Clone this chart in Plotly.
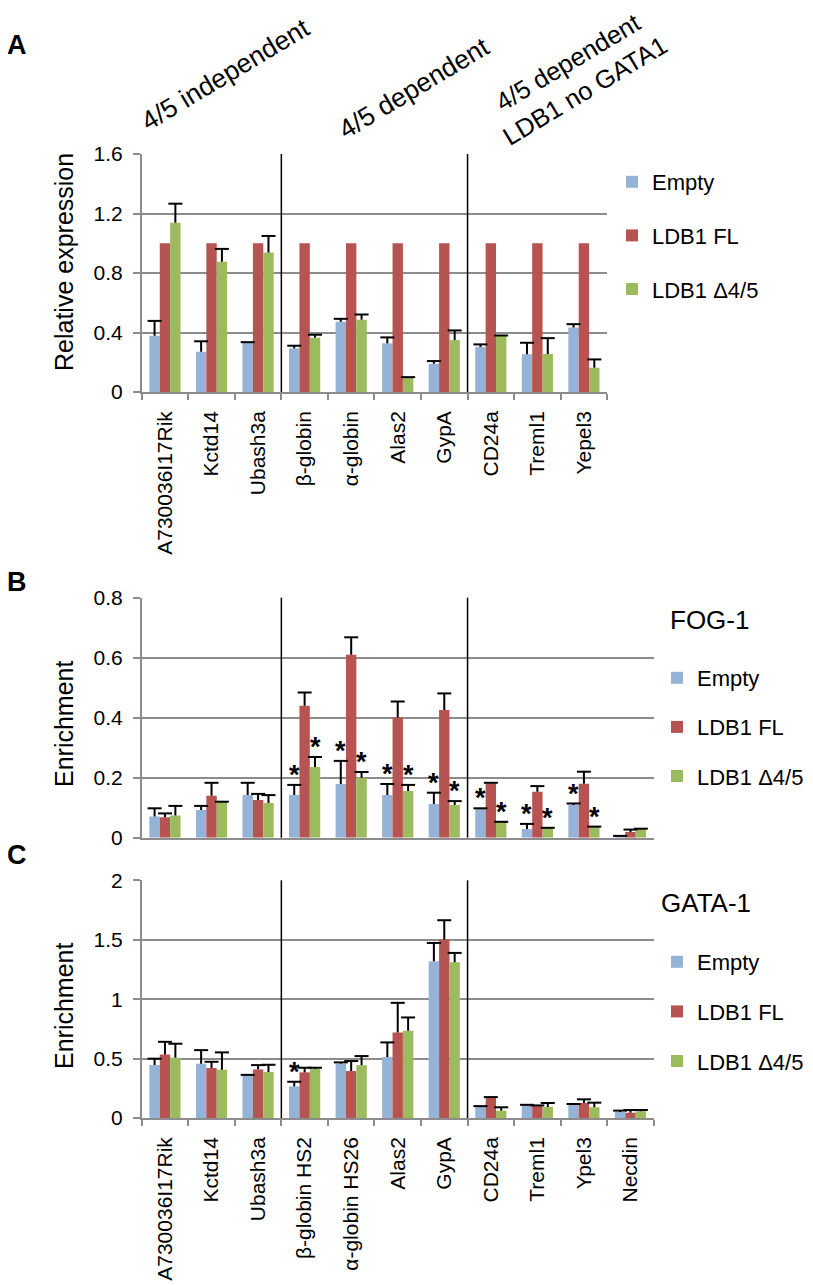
import plotly.graph_objects as go

W, H = 813, 1285

# ---------------- data ----------------
series_names = ["Empty", "LDB1 FL", "LDB1 Δ4/5"]
series_colors = ["#95B3D7", "#B65451", "#9CBB5E"]

# Panel A: relative expression
cats_a = ["A730036I17Rik", "Kctd14", "Ubash3a", "β-globin", "α-globin",
          "Alas2", "GypA", "CD24a", "Treml1", "Yepel3"]
a_empty = [0.378, 0.271, 0.333, 0.293, 0.472, 0.327, 0.190, 0.302, 0.253, 0.434]
a_empty_sd = [0.100, 0.070, 0.002, 0.018, 0.020, 0.040, 0.018, 0.018, 0.078, 0.022]
a_fl = [1.0, 1.0, 1.0, 1.0, 1.0, 1.0, 1.0, 1.0, 1.0, 1.0]
a_fl_sd = None
a_d45 = [1.137, 0.875, 0.938, 0.365, 0.486, 0.098, 0.349, 0.378, 0.255, 0.163]
a_d45_sd = [0.129, 0.087, 0.111, 0.020, 0.035, 0.002, 0.065, 0.002, 0.107, 0.056]

# Panel B: FOG-1 enrichment
cats_bc = ["A730036I17Rik", "Kctd14", "Ubash3a", "β-globin HS2", "α-globin HS26",
           "Alas2", "GypA", "CD24a", "Treml1", "Ypel3", "Necdin"]
b_empty = [0.071, 0.092, 0.142, 0.142, 0.179, 0.142, 0.112, 0.097, 0.029, 0.109, 0.005]
b_empty_sd = [0.027, 0.014, 0.041, 0.034, 0.077, 0.037, 0.038, 0.001, 0.017, 0.005, 0.001]
b_fl = [0.068, 0.140, 0.126, 0.440, 0.610, 0.401, 0.426, 0.180, 0.153, 0.180, 0.019]
b_fl_sd = [0.013, 0.043, 0.020, 0.044, 0.058, 0.053, 0.055, 0.003, 0.019, 0.040, 0.008]
b_d45 = [0.074, 0.119, 0.116, 0.236, 0.200, 0.156, 0.109, 0.052, 0.032, 0.036, 0.028]
b_d45_sd = [0.032, 0.001, 0.026, 0.033, 0.019, 0.020, 0.013, 0.001, 0.001, 0.001, 0.002]
b_empty_star = [0, 0, 0, 1, 1, 1, 1, 1, 1, 1, 0]
b_fl_star = [0, 0, 0, 0, 0, 0, 0, 0, 0, 0, 0]
b_d45_star = [0, 0, 0, 1, 1, 1, 1, 1, 1, 1, 0]

# Panel C: GATA-1 enrichment
c_empty = [0.445, 0.457, 0.361, 0.266, 0.457, 0.513, 1.319, 0.098, 0.109, 0.112, 0.050]
c_empty_sd = [0.054, 0.114, 0.002, 0.039, 0.011, 0.123, 0.154, 0.002, 0.002, 0.006, 0.012]
c_fl = [0.535, 0.420, 0.409, 0.384, 0.395, 0.720, 1.501, 0.171, 0.104, 0.126, 0.045]
c_fl_sd = [0.106, 0.053, 0.036, 0.039, 0.084, 0.249, 0.163, 0.005, 0.002, 0.031, 0.022]
c_d45 = [0.507, 0.406, 0.387, 0.412, 0.445, 0.734, 1.311, 0.062, 0.092, 0.090, 0.056]
c_d45_sd = [0.118, 0.146, 0.061, 0.011, 0.076, 0.112, 0.078, 0.028, 0.034, 0.039, 0.011]
c_empty_star = [0, 0, 0, 1, 0, 0, 0, 0, 0, 0, 0]
c_fl_star = [0, 0, 0, 0, 0, 0, 0, 0, 0, 0, 0]
c_d45_star = [0, 0, 0, 0, 0, 0, 0, 0, 0, 0, 0]

group_labels = ["4/5 independent", "4/5 dependent", "4/5 dependent<br>LDB1 no GATA1"]

# ---------------- helpers ----------------
PAGE_OFF = 8  # default page body margin of the written html


def pxx(x):
    return (x - PAGE_OFF) / W


def pxy(y):
    return 1 - (y - PAGE_OFF) / H


FONT = "Liberation Sans, Arial, sans-serif"
GRID = "#8C8C8C"
BARGAP = 0.33
SLOT = (1 - BARGAP) / 3  # width of one bar in category units

panels = [
    dict(xa="x", ya="y", cats=cats_a, legend="legend",
         vals=[a_empty, a_fl, a_d45], sds=[a_empty_sd, a_fl_sd, a_d45_sd],
         stars=[None, None, None]),
    dict(xa="x2", ya="y2", cats=cats_bc, legend="legend2",
         vals=[b_empty, b_fl, b_d45], sds=[b_empty_sd, b_fl_sd, b_d45_sd],
         stars=[b_empty_star, b_fl_star, b_d45_star]),
    dict(xa="x3", ya="y3", cats=cats_bc, legend="legend3",
         vals=[c_empty, c_fl, c_d45], sds=[c_empty_sd, c_fl_sd, c_d45_sd],
         stars=[c_empty_star, c_fl_star, c_d45_star]),
]

fig = go.Figure()
annotations = []

for pi, p in enumerate(panels):
    for k in range(3):
        vals = p["vals"][k]
        sd = p["sds"][k]
        err = None
        if sd is not None:
            err = dict(type="data", array=sd, arrayminus=[0] * len(sd),
                       symmetric=False, width=0, thickness=2, color="black")
        fig.add_trace(go.Bar(
            x=p["cats"], y=vals, name=series_names[k],
            marker=dict(color=series_colors[k], line=dict(width=0)),
            error_y=err, xaxis=p["xa"], yaxis=p["ya"],
            offsetgroup=str(k), legend=p["legend"],
            legendgroup=f"{pi}-{k}", hoverinfo="skip",
        ))
        if sd is not None:
            tops = [v + s for v, s in zip(vals, sd)]
            # error-bar caps
            fig.add_trace(go.Scatter(
                x=p["cats"], y=tops, mode="markers",
                marker=dict(symbol="line-ew", size=10,
                            line=dict(width=2, color="black"), color="black"),
                xaxis=p["xa"], yaxis=p["ya"], offsetgroup=str(k),
                showlegend=False, hoverinfo="skip", cliponaxis=False,
                legend=p["legend"],
            ))
            # significance asterisks
            st = p["stars"][k]
            if st is not None:
                for i, flag in enumerate(st):
                    if flag:
                        annotations.append(dict(
                            text="<b>*</b>", x=i + (k - 1) * SLOT, y=tops[i],
                            xref=p["xa"], yref=p["ya"], xanchor="center",
                            yanchor="middle", yshift=10, showarrow=False,
                            font=dict(size=27, color="black", family=FONT)))

# ---------------- axes ----------------
x_left = 141.7
cat_w = 46.55
axes_px = [
    (x_left, x_left + 10 * cat_w, 154, 392, [0, 1.6], 0.4, True),
    (x_left, x_left + 11 * cat_w, 597.7, 837.7, [0, 0.8], 0.2, False),
    (x_left, x_left + 11 * cat_w, 880.3, 1118, [0, 2], 0.5, True),
]

layout_axes = {}
for i, (x0, x1, y0, y1, rng, dt, show_lbl) in enumerate(axes_px):
    sfx = "" if i == 0 else str(i + 1)
    layout_axes[f"xaxis{sfx}"] = dict(
        domain=[pxx(x0), pxx(x1)], anchor=f"y{sfx}", type="category",
        showline=True, linecolor=GRID, linewidth=1.5,
        ticks="outside" if show_lbl else "", tickson="boundaries", ticklen=6,
        tickcolor=GRID, tickwidth=1.5,
        showticklabels=show_lbl,
        tickangle=-90, tickfont=dict(size=21, color="black", family=FONT),
        showgrid=False, automargin=False, ticklabelstandoff=9,
        fixedrange=True,
    )
    layout_axes[f"yaxis{sfx}"] = dict(
        domain=[pxy(y1), pxy(y0)], anchor=f"x{sfx}", range=rng, dtick=dt,
        showline=True, linecolor=GRID, linewidth=1.5,
        ticks="outside", ticklen=7, tickcolor=GRID, tickwidth=1.5,
        showgrid=True, gridcolor=GRID, gridwidth=1.5, zeroline=False,
        tickfont=dict(size=21, color="black", family=FONT),
        automargin=False, ticklabelstandoff=6, fixedrange=True,
    )

# separators between gene groups
shapes = []
for sfx in ["", "2", "3"]:
    for xb in [2.5, 6.5]:
        shapes.append(dict(type="line", xref=f"x{sfx}", yref=f"y{sfx} domain",
                           x0=xb, x1=xb, y0=0, y1=1,
                           line=dict(color="black", width=1.5)))


def add_text(text, x, y, size, angle=0):
    annotations.append(dict(text=text, x=pxx(x), y=pxy(y), xref="paper", yref="paper",
                            xanchor="center", yanchor="middle", showarrow=False,
                            textangle=angle,
                            font=dict(size=size, color="black", family=FONT)))


# panel letters
for letter, (lx, ly) in zip(["A", "B", "C"], [(17, 45), (17, 582), (17, 855)]):
    add_text(f"<b>{letter}</b>", lx, ly, 27)
# y titles
for t, (tx, ty) in zip(["Relative expression", "Enrichment", "Enrichment"],
                       [(64, 262), (64, 724), (64, 1006)]):
    add_text(t, tx, ty, 25, -90)
# panel titles
for t, (tx, ty) in zip(["FOG-1", "GATA-1"], [(709, 620), (706, 903)]):
    add_text(t, tx, ty, 26)
# group labels
for t, (tx, ty), fs in zip(group_labels, [(226, 74), (414, 88), (576, 76)],
                           [26.5, 26.5, 25.5]):
    add_text(t, tx, ty, fs, -31)

legend_style = dict(font=dict(size=22, color="black", family=FONT),
                    bgcolor="rgba(0,0,0,0)", borderwidth=0,
                    xanchor="left", yanchor="top", itemclick=False,
                    itemdoubleclick=False)

fig.update_layout(
    width=W, height=H, margin=dict(l=0, r=0, t=0, b=0),
    paper_bgcolor="white", plot_bgcolor="white",
    font=dict(family=FONT, color="black"),
    barmode="group", bargap=BARGAP, bargroupgap=0,
    scattermode="group", scattergap=BARGAP,
    shapes=shapes, annotations=annotations,
    legend=dict(x=pxx(612), y=pxy(161), tracegroupgap=22, **legend_style),
    legend2=dict(x=pxx(657), y=pxy(657), tracegroupgap=17.5, **legend_style),
    legend3=dict(x=pxx(657), y=pxy(941), tracegroupgap=18, **legend_style),
    **layout_axes,
)

fig.write_html("out.html")
